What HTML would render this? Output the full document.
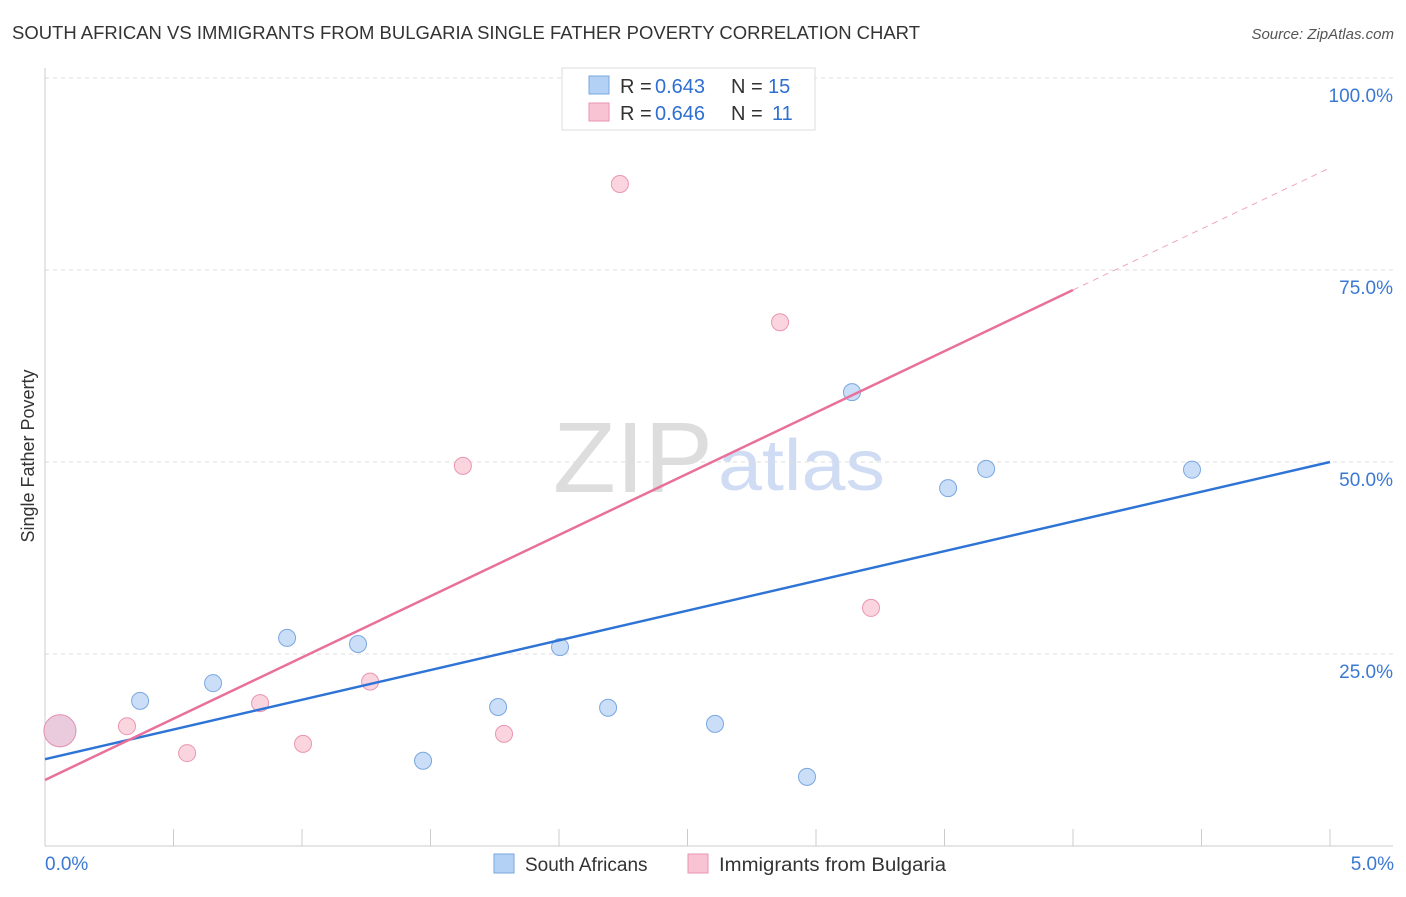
<!DOCTYPE html>
<html><head><meta charset="utf-8"><style>
body{margin:0;background:#fff;font-family:"Liberation Sans",sans-serif;}
svg text{font-family:"Liberation Sans",sans-serif;}
</style></head><body>
<svg id="chart" width="1406" height="892" xmlns="http://www.w3.org/2000/svg">
<text x="12" y="39" font-size="18" fill="#333" textLength="908" lengthAdjust="spacingAndGlyphs">SOUTH AFRICAN VS IMMIGRANTS FROM BULGARIA SINGLE FATHER POVERTY CORRELATION CHART</text>
<text x="1394" y="39" font-size="15" fill="#555" text-anchor="end" font-style="italic">Source: ZipAtlas.com</text>
<text x="0" y="0" transform="translate(34,456) rotate(-90)" font-size="18" fill="#333" text-anchor="middle">Single Father Poverty</text>
<text x="553" y="492" font-size="100" fill="#ddd" font-family="Liberation Serif" textLength="160" lengthAdjust="spacingAndGlyphs">ZIP</text>
<text x="718" y="490" font-size="72" fill="#cfdcf3" textLength="167" lengthAdjust="spacingAndGlyphs">atlas</text>
<g id="grid"></g><g id="marks"></g>
<g>
<rect x="562" y="68" width="253" height="62" fill="#fff" stroke="#ddd"/>
<rect x="589" y="76" width="20" height="18" fill="#b3d0f5" stroke="#7aa7e0"/>
<text x="620" y="93" font-size="20" fill="#333">R =</text>
<text x="655" y="93" font-size="20" fill="#2f6fd1">0.643</text>
<text x="731" y="93" font-size="20" fill="#333">N =</text>
<text x="768" y="93" font-size="20" fill="#2f6fd1">15</text>
<rect x="589" y="103" width="20" height="18" fill="#f8c3d3" stroke="#eb95b0"/>
<text x="620" y="120" font-size="20" fill="#333">R =</text>
<text x="655" y="120" font-size="20" fill="#2f6fd1">0.646</text>
<text x="731" y="120" font-size="20" fill="#333">N =</text>
<text x="772" y="120" font-size="20" fill="#2f6fd1">11</text>
</g>
<g>
<rect x="494" y="854" width="20" height="19" fill="#b3d0f5" stroke="#7aa7e0"/>
<text x="525" y="871" font-size="19" fill="#333">South Africans</text>
<rect x="688" y="854" width="20" height="19" fill="#f8c3d3" stroke="#eb95b0"/>
<text x="719" y="871" font-size="19" fill="#333" textLength="227" lengthAdjust="spacingAndGlyphs">Immigrants from Bulgaria</text>
</g>
</svg>
<script>
const yTicks=[25,50,75,100];
const yTickLabels=["25.0%","50.0%","75.0%","100.0%"];
const xTickLabels=["0.0%","5.0%"];
const blueX=[0.058,0.370,0.654,0.942,1.218,1.471,1.763,2.004,2.191,2.607,2.965,3.140,3.514,3.662,4.463];
const blueY=[15.0,18.9,21.2,27.1,26.3,11.1,18.1,25.9,18.0,15.9,9.0,59.1,46.6,49.1,49.0];
const pinkX=[0.058,0.319,0.553,0.837,1.004,1.265,1.626,1.786,2.237,2.860,3.214];
const pinkY=[15.0,15.6,12.1,18.6,13.3,21.4,49.5,14.6,86.2,68.2,31.0];
const blueLine=[[0,11.3],[5,50.0]];
const pinkLine=[[0,8.6],[4.0,72.4]];
const pinkDash=[[4.0,72.4],[5,88.3]];
const NS="http://www.w3.org/2000/svg";
const sx=v=>45+v/5*1285, sy=v=>846-v/100*768;
const grid=document.getElementById('grid'), marks=document.getElementById('marks');
function mk(tag,attrs,parent){const e=document.createElementNS(NS,tag);for(const k in attrs)e.setAttribute(k,attrs[k]);parent.appendChild(e);return e;}
yTicks.forEach((t,i)=>{
 const l=mk('line',{x1:45,x2:1393,y1:sy(t),y2:sy(t),stroke:'#ddd','stroke-dasharray':'4,4'},grid);
 
 
 const tx=mk('text',{x:1393,y:sy(t)+24,'font-size':19,fill:'#3a78d4','text-anchor':'end'},grid);
 tx.textContent=yTickLabels[i];
 
 
});
let ax=mk('line',{x1:45,x2:45,y1:68,y2:846,stroke:'#ccc'},grid);


let bx=mk('line',{x1:45,x2:1393,y1:846,y2:846,stroke:'#ccc'},grid);


for(let i=0;i<=10;i++){const t=mk('line',{x1:sx(i*0.5),x2:sx(i*0.5),y1:829,y2:846,stroke:'#ccc'},grid);
 
 }
[[0,'start',45],[5,'end',1394]].forEach((a,i)=>{const t=mk('text',{x:a[2],y:870,'font-size':19,fill:'#3a78d4','text-anchor':a[1]},grid);t.textContent=xTickLabels[i];
 
 });
function pts(xs,ys,fill,stroke,name){xs.forEach((x,i)=>{const c=mk('circle',{cx:sx(x),cy:sy(ys[i]),r:i===0?16:8.5,fill,stroke,'stroke-width':1,'fill-opacity':0.7},marks);
 
 });}
pts(blueX,blueY,'#b3d0f5','#7aa7e0','point-south-african');
pts(pinkX,pinkY,'#f8c3d3','#eb95b0','point-bulgaria');
function ln(p,stroke,name,dash){const l=mk('line',{x1:sx(p[0][0]),y1:sy(p[0][1]),x2:sx(p[1][0]),y2:sy(p[1][1]),stroke,'stroke-width':dash?1:2.5},marks);if(dash)l.setAttribute('stroke-dasharray','6,5');
 
 }
ln(blueLine,'#2e74d6','trend-line-blue');
ln(pinkLine,'#e8709a','trend-line-pink');
ln(pinkDash,'#f0a5bf','trend-line-pink-extension',true);
</script>
</body></html>
